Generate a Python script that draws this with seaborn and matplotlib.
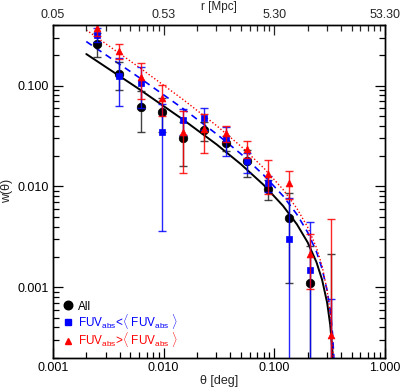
import numpy as np
import pandas as pd
import matplotlib
matplotlib.use("Agg")
import matplotlib.pyplot as plt
import seaborn as sns
from matplotlib.ticker import FixedLocator, FixedFormatter, NullFormatter, LogLocator

# ---------------- data ----------------
theta = [0.0025, 0.00394, 0.00624, 0.00966, 0.0149, 0.0231, 0.0366, 0.0565, 0.0875, 0.1355, 0.210, 0.324]

w_all = [0.262, 0.132, 0.062, 0.055, 0.030, 0.036, 0.027, 0.0177, 0.0095, 0.0049, 0.00111, 0.0001]
err_all = [0.07, 0.041, 0.027, 0.02, 0.014, 0.0075, 0.0045, 0.0053, 0.0022, 0.0038, 0.00147, 0.00203]

w_faint = [0.32, 0.125, 0.107, 0.035, 0.0457, 0.048, 0.0297, 0.0177, 0.0108, 0.0030, 0.00147, 0.0001]
err_faint = [0.05, 0.062, 0.047, 0.0314, 0.0135, 0.012, 0.0095, 0.004, 0.002, 0.0047, 0.003, 0.00066]

w_bright = [0.37, 0.222, 0.121, 0.0755, 0.035, 0.037, 0.0337, 0.0236, 0.0134, 0.0108, 0.00216, 0.000335]
err_bright = [0.06, 0.04, 0.047, 0.025, 0.0215, 0.0155, 0.006, 0.0046, 0.005, 0.0033, 0.0012, 0.0044]

# fitted curves
fit_theta = [0.002, 0.006, 0.015, 0.03, 0.05, 0.08, 0.12, 0.16, 0.2, 0.24, 0.27, 0.30, 0.32, 0.335, 0.345, 0.35]
fit_all = [0.206, 0.0925, 0.0460, 0.0262, 0.0166, 0.01037, 0.00641, 0.00421, 0.00279, 0.00178, 0.00119,
           0.000703, 0.000422, 0.000232, 0.000111, 0.00006]
fit_faint = [0.274, 0.1205, 0.0591, 0.0332, 0.0210, 0.0130, 0.00804, 0.00528, 0.00351, 0.00226, 0.00153,
             0.00093, 0.00059, 0.000353, 0.000202, 0.000132]
fit_bright = [0.357, 0.1522, 0.0728, 0.0402, 0.0250, 0.0153, 0.00933, 0.00605, 0.00395, 0.00248, 0.00163,
              0.00093, 0.00055, 0.00029, 0.00016, 0.0001]

bottom_ticks = [0.001, 0.01, 0.1, 1.0]
bottom_labels = ["0.001", "0.010", "0.100", "1.000"]
top_labels = ["0.05", "0.53", "5.30", "53.30"]
y_ticks = [0.001, 0.01, 0.1]
y_labels = ["0.001", "0.010", "0.100"]

labels = ["All",
          r"FUV$_{\rm abs}$<$\langle$ FUV$_{\rm abs}$ $\rangle$",
          r"FUV$_{\rm abs}$>$\langle$ FUV$_{\rm abs}$ $\rangle$"]

# ---------------- style ----------------
sns.set_style("ticks")
plt.rcParams["font.family"] = ["Liberation Sans", "DejaVu Sans"]
plt.rcParams["font.size"] = 9
plt.rcParams["mathtext.fontset"] = "custom"
plt.rcParams["mathtext.rm"] = "Liberation Sans"

fig = plt.figure(figsize=(4.0, 3.9), dpi=100)
ax = fig.add_axes([0.1325, 0.0828, 0.83, 0.8531])
ax.set_xscale("log")
ax.set_yscale("log")

# fit curves
fits = pd.DataFrame({"theta": fit_theta, "all": fit_all, "faint": fit_faint, "bright": fit_bright})
sns.lineplot(data=fits, x="theta", y="all", ax=ax, color="black", lw=1.4, sort=False, zorder=2)
sns.lineplot(data=fits, x="theta", y="faint", ax=ax, color="blue", lw=1.2, sort=False, zorder=2,
             linestyle=(0, (4, 3)))
sns.lineplot(data=fits, x="theta", y="bright", ax=ax, color="red", lw=1.0, sort=False, zorder=2,
             linestyle=(0, (1, 1.5)))

series = [
    (w_all, err_all, "black", "o", 38, "#222222"),
    (w_faint, err_faint, "blue", "s", 14, "blue"),
    (w_bright, err_bright, "red", "^", 24, "red"),
]
handles = []
for i, (w, e, col, mk, s, ecol) in enumerate(series):
    ax.errorbar(theta, w, yerr=e, fmt="none", ecolor=ecol, elinewidth=1.0, capsize=2.8,
                capthick=1.0, zorder=3 + i, alpha=0.85)
    df = pd.DataFrame({"theta": theta, "w": w})
    sns.scatterplot(data=df, x="theta", y="w", ax=ax, color=col, marker=mk, s=s,
                    edgecolor=col, linewidth=0.5, zorder=4 + i)
    handles.append(plt.Line2D([], [], linestyle="none", marker=mk, color=col,
                              markersize=np.sqrt(s)))

ax.set_xlim(0.001, 1.0)
ax.set_ylim(0.0002, 0.4)

ax.xaxis.set_major_locator(FixedLocator(bottom_ticks))
ax.xaxis.set_major_formatter(FixedFormatter(bottom_labels))
ax.xaxis.set_minor_locator(LogLocator(base=10, subs=np.arange(2, 10)))
ax.xaxis.set_minor_formatter(NullFormatter())
ax.yaxis.set_major_locator(FixedLocator(y_ticks))
ax.yaxis.set_major_formatter(FixedFormatter(y_labels))
ax.yaxis.set_minor_locator(LogLocator(base=10, subs=np.arange(2, 10)))
ax.yaxis.set_minor_formatter(NullFormatter())

ax.tick_params(which="both", direction="in", right=True, top=False, colors="black", width=0.9)
ax.tick_params(which="major", length=7, labelsize=9, pad=3)
ax.tick_params(which="minor", length=4)

ax.set_xlabel(r"θ [deg]", fontsize=9, labelpad=0.5)
ax.set_ylabel(r"w(θ)", fontsize=9, labelpad=3)

top = ax.twiny()
top.set_xscale("log")
top.set_xlim(0.001, 1.0)
top.xaxis.set_major_locator(FixedLocator(bottom_ticks))
top.xaxis.set_major_formatter(FixedFormatter(top_labels))
top.xaxis.set_minor_locator(LogLocator(base=10, subs=np.arange(2, 10)))
top.xaxis.set_minor_formatter(NullFormatter())
top.tick_params(which="both", direction="in", width=0.9)
top.tick_params(which="major", length=7, labelsize=9, pad=3)
top.tick_params(which="minor", length=4)
top.set_xlabel("r [Mpc]", fontsize=8.5, va="bottom")
top.xaxis.set_label_coords(0.5, 1.037)

for a in (ax, top):
    for sp in a.spines.values():
        sp.set_linewidth(1.0)
        sp.set_color("black")

leg = ax.legend(handles, labels, loc="lower left", bbox_to_anchor=(0.01, 0.0), frameon=False,
                handlelength=0.6, handletextpad=0.5, labelspacing=-0.05, borderpad=0.2,
                fontsize=8.5, labelcolor=["black", "blue", "red"])

fig.savefig("out.png", dpi=100)
